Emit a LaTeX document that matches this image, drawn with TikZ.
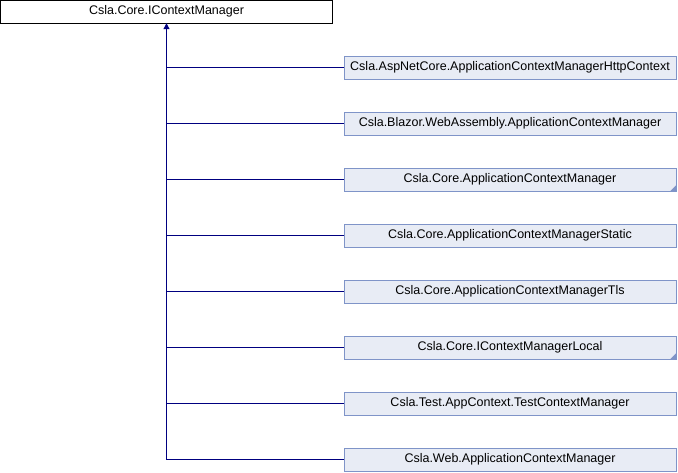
\documentclass[tikz,border=0pt]{standalone}
\usepackage{fontspec}
\setmainfont{Liberation Sans}
\usetikzlibrary{arrows.meta}
\definecolor{boxfill}{HTML}{E8ECF5}
\definecolor{boxline}{HTML}{7F94C8}
\definecolor{linkblue}{HTML}{000080}
\begin{document}
\begin{tikzpicture}
	[x=1pt,y=-1pt,
	cls/.style={rectangle,minimum width=332pt,minimum height=23pt,inner sep=0pt,draw=boxline,fill=boxfill,font=\fontsize{12.5}{14}\selectfont},
	base/.style={cls,draw=black,fill=white},
	link/.style={linkblue,line width=1pt},
	corner/.style={fill=boxline}]
	\useasboundingbox (0,0) rectangle (678,472);
	\node[base] (icm) at (166.5,11.5) {Csla.Core.IContextManager};
	\node[cls] (http) at (510,67.5) {Csla.AspNetCore.ApplicationContextManagerHttpContext};
	\node[cls] (blazor) at (510,123.5) {Csla.Blazor.WebAssembly.ApplicationContextManager};
	\node[cls] (core) at (510,179.5) {Csla.Core.ApplicationContextManager};
	\node[cls] (static) at (510,235.5) {Csla.Core.ApplicationContextManagerStatic};
	\node[cls] (tls) at (510,291.5) {Csla.Core.ApplicationContextManagerTls};
	\node[cls] (local) at (510,347.5) {Csla.Core.IContextManagerLocal};
	\node[cls] (test) at (510,403.5) {Csla.Test.AppContext.TestContextManager};
	\node[cls] (web) at (510,459.5) {Csla.Web.ApplicationContextManager};
	% corner marks
	\fill[corner] (core.south east) -- ++(-6,0) -- ++(6,-6) -- cycle;
	\fill[corner] (local.south east) -- ++(-6,0) -- ++(6,-6) -- cycle;
	% inheritance
	\coordinate (trunk) at (icm.south |- web.west);
	\draw[link,-{Triangle[length=6pt,width=6pt]}] (trunk) -- (icm.south);
	\draw[link] (icm.south |- http.west) -- (http.west);
	\draw[link] (icm.south |- blazor.west) -- (blazor.west);
	\draw[link] (icm.south |- core.west) -- (core.west);
	\draw[link] (icm.south |- static.west) -- (static.west);
	\draw[link] (icm.south |- tls.west) -- (tls.west);
	\draw[link] (icm.south |- local.west) -- (local.west);
	\draw[link] (icm.south |- test.west) -- (test.west);
	\draw[link] (trunk) -- (web.west);
\end{tikzpicture}
\end{document}
